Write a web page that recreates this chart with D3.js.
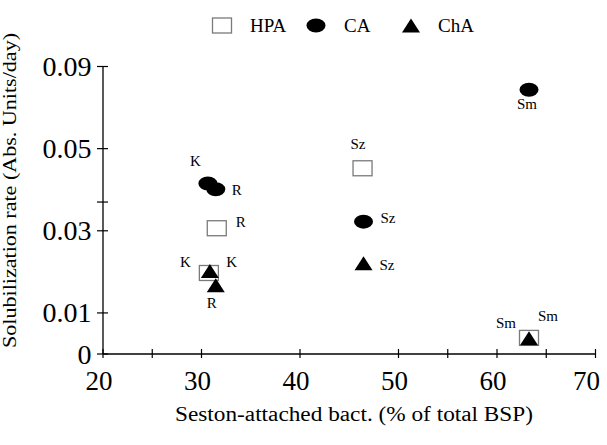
<!DOCTYPE html>
<html>
<head>
<meta charset="utf-8">
<script src="https://cdn.jsdelivr.net/npm/d3@7/dist/d3.min.js"></script>
<style>
  html, body { margin: 0; padding: 0; background: #fff; }
  svg { display: block; }
  svg text { font-family: "Liberation Serif", "Times New Roman", serif; fill: #000; }
</style>
</head>
<body>
<svg id="chart" width="607" height="445"></svg>
<script>
// ---- data ----
const sites = ["K", "R", "Sz", "Sm"];
const seriesNames = ["HPA", "CA", "ChA"];
const xHPA = [30.8, 31.6, 46.4, 63.3];
const yHPA = [0.0196, 0.0305, 0.0451, 0.0038];
const xCA = [30.7, 31.5, 46.5, 63.3];
const yCA = [0.0414, 0.0400, 0.0321, 0.0642];
const xChA = [30.9, 31.5, 46.5, 63.3];
const yChA = [0.0201, 0.0166, 0.0220, 0.0037];
const xTickValues = [20, 25, 30, 40, 50, 55, 60, 65, 70];
const xTickLabels = ["20", "", "30", "40", "50", "", "60", "", "70"];
const yTickValues = [0, 0.01, 0.03, 0.037, 0.05, 0.07];
const yTickLabels = ["0", "0.01", "0.03", "", "0.05", "0.09"];

// label placement offsets (px) for the site annotations, per series
const labelOffHPA = [[-29, -6], [19, -1], [-12, -19], [-33, -9.5]];
const labelOffCA = [[-18, -17], [16, 6], [17, 1], [-12, 19]];
const labelOffChA = [[16.5, -4], [-9, 23], [16, 7], [9, -17]];

const FONT = "'Liberation Serif', 'Times New Roman', serif";

// ---- chart ----
const svg = d3.select("#chart");
const x = d3.scaleLinear().domain([20, 70]).range([102.5, 595]);
const y = d3.scaleLinear().domain([0, 0.07]).range([353.5, 66]);

// x axis
const xAxis = svg.append("g")
  .attr("transform", `translate(0,${y(0)})`)
  .call(d3.axisBottom(x).tickValues(xTickValues).tickSizeOuter(0)
        .tickFormat((d, i) => xTickLabels[i]));
xAxis.attr("font-family", FONT).attr("font-size", 27);
xAxis.select(".domain").attr("stroke", "#000").attr("stroke-width", 1.3);
xAxis.selectAll(".tick line").attr("y1", -4.5).attr("y2", 4.5).attr("stroke-width", 1.2);
xAxis.selectAll(".tick text")
  .attr("y", 36).attr("dy", null)
  .attr("x", d => d === 70 ? -9 : -4)
  .style("font-family", FONT).style("font-size", "27px");

// y axis
const yAxis = svg.append("g")
  .attr("transform", `translate(${x(20)},0)`)
  .call(d3.axisLeft(y).tickValues(yTickValues).tickSizeOuter(0)
        .tickFormat((d, i) => yTickLabels[i]));
yAxis.attr("font-family", FONT).attr("font-size", 28);
yAxis.select(".domain").attr("stroke", "#000").attr("stroke-width", 1.3);
yAxis.selectAll(".tick line").attr("x1", -5.5).attr("x2", 5.5).attr("stroke-width", 1.2);
yAxis.selectAll(".tick text")
  .attr("x", -11).attr("dy", "0.34em")
  .style("font-family", FONT).style("font-size", "28px");

// axis titles
svg.append("text")
  .attr("x", 354).attr("y", 421)
  .attr("text-anchor", "middle")
  .attr("textLength", 358).attr("lengthAdjust", "spacingAndGlyphs")
  .style("font-family", FONT).style("font-size", "20px")
  .text("Seston-attached bact. (% of total BSP)");
svg.append("text")
  .attr("transform", "translate(16,190.5) rotate(-90)")
  .attr("text-anchor", "middle")
  .attr("textLength", 315).attr("lengthAdjust", "spacingAndGlyphs")
  .style("font-family", FONT).style("font-size", "19px")
  .text("Solubilization rate (Abs. Units/day)");

// marker drawers
function drawRect(g, cx, cy) {
  g.append("rect").attr("x", cx - 9.5).attr("y", cy - 7.5).attr("width", 19).attr("height", 15)
    .attr("fill", "#fff").attr("stroke", "#7a7a7a").attr("stroke-width", 1.3);
}
function drawEllipse(g, cx, cy) {
  g.append("ellipse").attr("cx", cx).attr("cy", cy).attr("rx", 9.5).attr("ry", 7).attr("fill", "#000");
}
function drawTri(g, cx, cy) {
  const p = d3.path();
  p.moveTo(cx - 9, cy + 7); p.lineTo(cx + 9, cy + 7); p.lineTo(cx, cy - 7); p.closePath();
  g.append("path").attr("d", p.toString()).attr("fill", "#000");
}

const series = [
  { xs: xHPA, ys: yHPA, off: labelOffHPA, draw: drawRect },
  { xs: xCA, ys: yCA, off: labelOffCA, draw: drawEllipse },
  { xs: xChA, ys: yChA, off: labelOffChA, draw: drawTri }
];
const marks = svg.append("g");
const labels = svg.append("g");
series.forEach(s => {
  sites.forEach((site, i) => {
    const cx = x(s.xs[i]), cy = y(s.ys[i]);
    s.draw(marks, cx, cy);
    labels.append("text").attr("x", cx + s.off[i][0]).attr("y", cy + s.off[i][1])
      .style("font-family", FONT).style("font-size", "15px").text(site);
  });
});

// legend
const legend = svg.append("g");
const legendItems = [
  { name: seriesNames[0], draw: drawRect, mx: 222, tx: 250 },
  { name: seriesNames[1], draw: drawEllipse, mx: 316, tx: 344 },
  { name: seriesNames[2], draw: drawTri, mx: 411, tx: 438 }
];
legendItems.forEach(it => {
  it.draw(legend, it.mx, 25.5);
  legend.append("text").attr("x", it.tx).attr("y", 32)
    .style("font-family", FONT).style("font-size", "19px").text(it.name);
});
</script>
</body>
</html>
